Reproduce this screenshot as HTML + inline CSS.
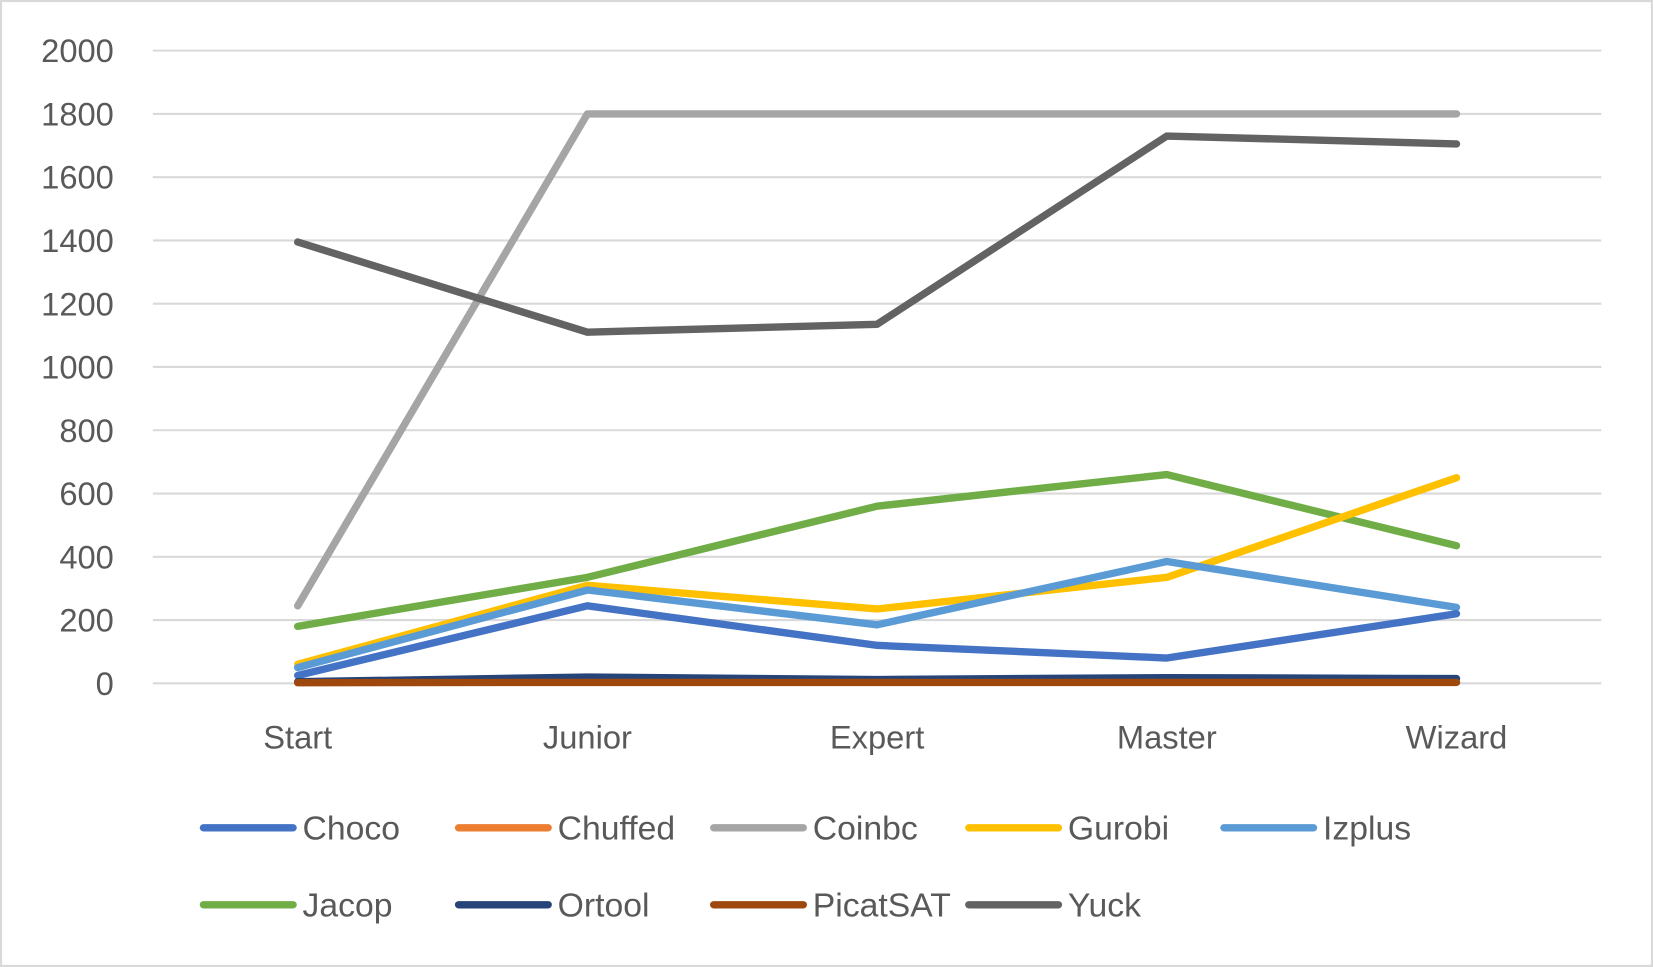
<!DOCTYPE html>
<html><head><meta charset="utf-8"><style>
html,body{margin:0;padding:0;background:#fff;}
svg{display:block;font-family:"Liberation Sans",sans-serif;}
</style></head><body>
<svg id="chart" width="1653" height="967" viewBox="0 0 1568 917" preserveAspectRatio="none" xmlns="http://www.w3.org/2000/svg">
<rect x="1" y="1" width="1566" height="915" fill="#fff" stroke="#d9d9d9" stroke-width="2"/>
<g id="grid"></g><g id="ylabels"></g><g id="xlabels"></g><g id="series"></g><g id="legend"></g>
</svg>
<script>
const categories=["Start","Junior","Expert","Master","Wizard"];
const yTicks=[0,200,400,600,800,1000,1200,1400,1600,1800,2000];
const seriesNames=["Choco","Chuffed","Coinbc","Gurobi","Izplus","Jacop","Ortool","PicatSAT","Yuck"];
const seriesColors=["#4472c4","#ed7d31","#a5a5a5","#ffc000","#5b9bd5","#70ad47","#264478","#9e480e","#636363"];
const choco=[25,245,120,80,220];
const chuffed=[3,4,4,4,4];
const coinbc=[245,1800,1800,1800,1800];
const gurobi=[60,310,235,335,650];
const izplus=[50,295,185,385,240];
const jacop=[180,335,560,660,435];
const ortool=[5,20,12,18,15];
const picatsat=[2,3,3,3,3];
const yuck=[1395,1110,1135,1730,1705];
const allSeries=[choco,chuffed,coinbc,gurobi,izplus,jacop,ortool,picatsat,yuck];
const drawOrder=[2,8,5,3,4,0,1,6,7];
const NS="http://www.w3.org/2000/svg";
const L=145,R=1519,T=48,B=648;
function y(v){return B-(v/2000)*(B-T);}
function x(i){return L+(i+0.5)*(R-L)/categories.length;}
function mk(tag,attrs,parent){const e=document.createElementNS(NS,tag);for(const k in attrs)e.setAttribute(k,attrs[k]);parent.appendChild(e);return e;}
const g=document.getElementById('grid'),yl=document.getElementById('ylabels'),xl=document.getElementById('xlabels'),sg=document.getElementById('series'),lg=document.getElementById('legend');
yTicks.forEach(t=>{
 const ln=mk('line',{x1:L,x2:R,y1:y(t),y2:y(t),stroke:'#d9d9d9','stroke-width':2},g);
 
 
 const tx=mk('text',{x:108,y:y(t)+11,'text-anchor':'end','font-size':31,fill:'#595959'},yl);
 tx.textContent=t;
 
 
});
categories.forEach((c,i)=>{
 const tx=mk('text',{x:x(i),y:710,'text-anchor':'middle','font-size':31,fill:'#595959'},xl);
 tx.textContent=c;
 
 
});
drawOrder.forEach(si=>{
 const pts=allSeries[si].map((v,i)=>x(i)+','+y(v)).join(' ');
 const p=mk('polyline',{points:pts,fill:'none',stroke:seriesColors[si],'stroke-width':7,'stroke-linejoin':'round','stroke-linecap':'round'},sg);
 
 
});
const legX=[190,432,674,916,1158],legY=[785,858];
seriesNames.forEach((n,i)=>{
 const lx=legX[i%5],ly=legY[Math.floor(i/5)];
 const ge=mk('g',{},lg);
 
 
 mk('line',{x1:lx+3,x2:lx+88,y1:ly,y2:ly,stroke:seriesColors[i],'stroke-width':7,'stroke-linecap':'round'},ge);
 const t=mk('text',{x:lx+97,y:ly+11,'font-size':32,fill:'#595959'},ge);
 t.textContent=n;
});
</script>
</body></html>
